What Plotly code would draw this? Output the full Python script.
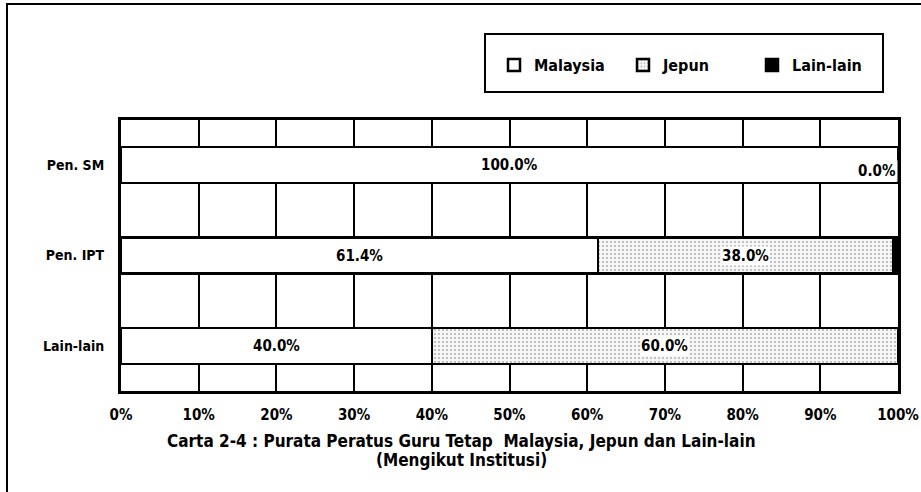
import plotly.graph_objects as go

categories = ["Pen. SM", "Pen. IPT", "Lain-lain"]
malaysia = [100.0, 61.4, 40.0]
jepun = [0.0, 38.0, 60.0]
lain_lain = [0.0, 0.6, 0.0]
series_names = ["Malaysia", "Jepun", "Lain-lain"]
tick_vals = [0, 10, 20, 30, 40, 50, 60, 70, 80, 90, 100]
tick_text = ["0%", "10%", "20%", "30%", "40%", "50%", "60%", "70%", "80%", "90%", "100%"]
title_lines = ["Carta 2-4 : Purata Peratus Guru Tetap  Malaysia, Jepun dan Lain-lain",
               "(Mengikut Institusi)"]

FONT = "DejaVu Sans Condensed, DejaVu Sans, Liberation Sans, Arial"
W, H = 921, 492
# plot area in window pixels
PL, PR, PT, PB = 121, 898, 120, 391


def px(xw):
    return (xw - PL) / (PR - PL)


def py(yw):
    return (PB - yw) / (PB - PT)


fig = go.Figure()
fig.add_trace(go.Bar(
    y=categories, x=malaysia, name=series_names[0], orientation="h",
    marker=dict(color="white", line=dict(color="black", width=2.5)),
))
fig.add_trace(go.Bar(
    y=categories, x=jepun, name=series_names[1], orientation="h",
    marker=dict(color="white", line=dict(color="black", width=2.5),
                pattern=dict(shape=".", fgcolor="#666666", bgcolor="#f6f6f6",
                             size=4, solidity=0.2)),
))
fig.add_trace(go.Bar(
    y=categories, x=lain_lain, name=series_names[2], orientation="h",
    marker=dict(color="black", line=dict(color="black", width=2.5)),
))

label_font = dict(family=FONT, size=15, color="black", weight="bold")
annotations = []
for cat, m, j in zip(categories, malaysia, jepun):
    annotations.append(dict(x=m / 2, y=cat, xref="x", yref="y", text=f"{m:.1f}%",
                            showarrow=False, bgcolor="white", borderpad=0, font=label_font))
    if j > 0:
        annotations.append(dict(x=m + j / 2, y=cat, xref="x", yref="y", text=f"{j:.1f}%",
                                showarrow=False, bgcolor="white", borderpad=0, font=label_font))
    else:
        annotations.append(dict(x=m + j, y=cat, xref="x", yref="y", text=f"{j:.1f}%",
                                showarrow=False, bgcolor="white", borderpad=1,
                                xanchor="right", yshift=-6, font=label_font))

title_font = dict(family=FONT, size=17, color="black", weight="bold")
annotations.append(dict(x=px(461), y=py(441), xref="paper", yref="paper", text=title_lines[0],
                        showarrow=False, xanchor="center", yanchor="middle", font=title_font))
annotations.append(dict(x=px(461), y=py(460), xref="paper", yref="paper", text=title_lines[1],
                        showarrow=False, xanchor="center", yanchor="middle", font=title_font))

fig.update_layout(
    width=W, height=H,
    margin=dict(l=PL, r=W - PR, t=PT, b=H - PB),
    paper_bgcolor="white", plot_bgcolor="white",
    barmode="stack", bargap=0.6,
    showlegend=True,
    legend=dict(orientation="h", x=px(494), y=py(48),
                xanchor="left", yanchor="top", entrywidth=84, entrywidthmode="pixels",
                font=dict(family=FONT, size=16, color="black", weight="bold"),
                bgcolor="rgba(0,0,0,0)", traceorder="normal"),
    xaxis=dict(range=[0, 100], tickvals=tick_vals, ticktext=tick_text,
               showgrid=True, gridcolor="black", gridwidth=1.5, automargin=False,
               showline=True, mirror=True, linecolor="black", linewidth=3,
               ticks="", ticklabelstandoff=8, zeroline=False,
               tickfont=dict(family=FONT, size=15, color="black", weight="bold")),
    yaxis=dict(categoryorder="array", categoryarray=categories, autorange="reversed",
               showgrid=False, showline=True, mirror=True, linecolor="black", linewidth=3,
               ticks="", ticklabelstandoff=11, automargin=False,
               tickfont=dict(family=FONT, size=14, color="black", weight="bold")),
    annotations=annotations,
    shapes=[
        dict(type="rect", xref="paper", yref="paper",
             x0=px(485), x1=px(883), y0=py(92), y1=py(34),
             line=dict(color="black", width=2), fillcolor="rgba(0,0,0,0)", layer="below"),
        dict(type="rect", xref="paper", yref="paper",
             x0=px(7), x1=px(950), y0=py(540), y1=py(4),
             line=dict(color="black", width=2), fillcolor="rgba(0,0,0,0)", layer="below"),
    ],
)

fig.write_html("out.html", config={"displayModeBar": False},
               post_script="document.body.style.margin = '0px';")
